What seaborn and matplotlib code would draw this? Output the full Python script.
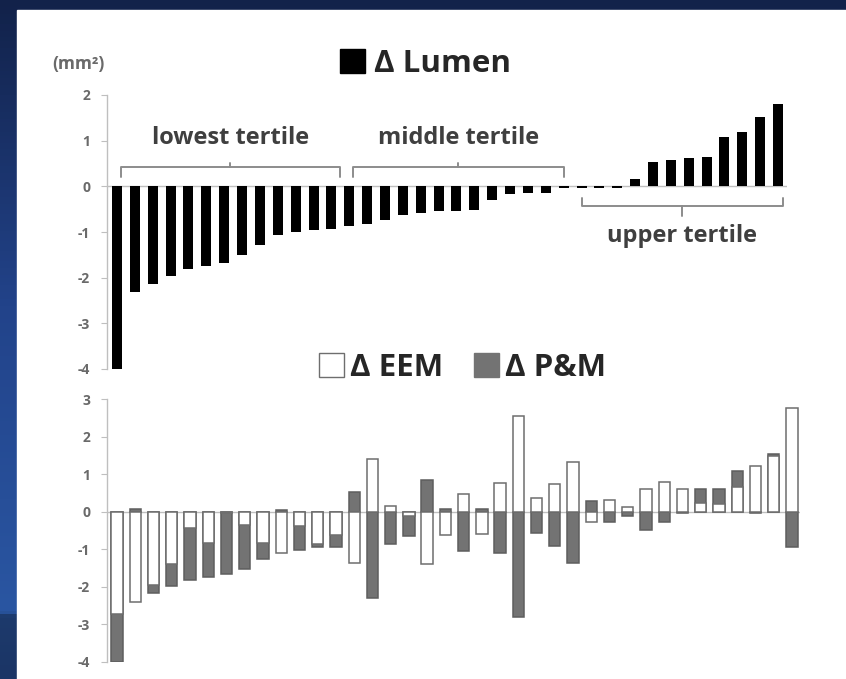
import numpy as np
import pandas as pd
import matplotlib
matplotlib.use("Agg")
import matplotlib.pyplot as plt
from matplotlib.colors import LinearSegmentedColormap
from matplotlib.patches import Rectangle, Patch
import seaborn as sns

# change in lumen area per lesion (mm2), sorted
lumen = [-4.00, -2.31, -2.13, -1.97, -1.82, -1.74, -1.68, -1.51, -1.28, -1.06, -1.01, -0.95, -0.93,
         -0.86, -0.82, -0.73, -0.62, -0.58, -0.54, -0.53, -0.51, -0.31, -0.17, -0.15, -0.15, -0.04,
         -0.04, -0.04, -0.04, 0.15, 0.54, 0.58, 0.61, 0.65, 1.08, 1.19, 1.52, 1.81]

# EEM and P&M segments (same lesion order)
eem = [-2.73, -2.42, -1.96, -1.40, -0.44, -0.83, -0.02, -0.36, -0.83, -1.10, -0.38, -0.86, -0.62,
       -1.36, 1.42, 0.15, -0.12, -1.40, -0.62, 0.47, -0.60, 0.77, 2.56, 0.38, 0.74, 1.32,
       -0.28, 0.31, 0.14, 0.60, 0.80, 0.62, 0.24, 0.20, 0.67, 1.22, 1.50, 2.78]
pm = [-1.27, 0.08, -0.20, -0.58, -1.38, -0.92, -1.65, -1.16, -0.44, 0.06, -0.64, -0.09, -0.31,
      0.53, -2.29, -0.87, -0.52, 0.84, 0.07, -1.04, 0.07, -1.11, -2.80, -0.58, -0.92, -1.36,
      0.29, -0.28, -0.12, -0.49, -0.28, -0.03, 0.36, 0.42, 0.42, -0.03, 0.03, -0.93]

tertile_names = ["lowest tertile", "middle tertile", "upper tertile"]
tertile_spans = [(0.2, 12.5), (13.2, 25.0), (26.0, 37.3)]

W, H = 846, 679
sns.set_style("white")
plt.rcParams["font.family"] = ["Open Sans", "DejaVu Sans"]

fig = plt.figure(figsize=(W / 100, H / 100), dpi=100)

# slide background: dark blue frame with a white panel
bg = fig.add_axes([0, 0, 1, 1], zorder=-10)
cmap = LinearSegmentedColormap.from_list(
    "slide", [(0, "#12224a"), (0.45, "#22438a"), (0.905, "#2a56a2"), (0.91, "#1d3a6c"), (1, "#1b3566")])
bg.imshow(np.linspace(0, 1, 200).reshape(-1, 1), cmap=cmap, aspect="auto", extent=[0, W, H, 0])
bg.add_patch(Rectangle((17, 10), W - 17, H - 10, color="white"))
bg.set_xlim(0, W)
bg.set_ylim(H, 0)
bg.axis("off")

df = pd.DataFrame({"idx": range(len(lumen)), "lumen": lumen, "eem": eem, "pm": pm})
# gray segment is stacked on the white one when both have the same sign
df["pm_outer"] = np.where(np.sign(df["eem"]) == np.sign(df["pm"]), df["eem"] + df["pm"], df["pm"])

ax1 = fig.add_axes([107 / W, 1 - 369 / H, (787 - 107) / W, 274 / H])
ax2 = fig.add_axes([107 / W, 1 - 661.7 / H, (800 - 107) / W, 262.4 / H])

sns.barplot(data=df, x="idx", y="lumen", color="black", width=0.56, saturation=1,
            errorbar=None, linewidth=0, ax=ax1)
sns.barplot(data=df, x="idx", y="pm_outer", color="#737373", width=0.62, saturation=1,
            errorbar=None, edgecolor="#5e5e5e", linewidth=1.1, ax=ax2)
sns.barplot(data=df, x="idx", y="eem", color="white", width=0.62, saturation=1,
            errorbar=None, edgecolor="#6e6e6e", linewidth=1.1, ax=ax2)

for ax, lim, ticks in [(ax1, (-0.56, 37.5), range(-4, 3)), (ax2, (-0.55, 37.44), range(-4, 4))]:
    ax.set_xlim(*lim)
    ax.set_ylim(ticks[0], ticks[-1])
    ax.set_facecolor("none")
    ax.axhline(0, color="#bfbfbf", lw=1.0, zorder=0.5)
    for s in ["top", "right", "bottom"]:
        ax.spines[s].set_visible(False)
    ax.spines["left"].set_color("#bfbfbf")
    ax.spines["left"].set_linewidth(1.0)
    ax.set_xticks([])
    ax.set_yticks(list(ticks))
    ax.set_yticklabels([str(t) for t in ticks], fontweight="bold")
    ax.tick_params(axis="y", left=True, length=4, color="#bfbfbf", labelsize=10,
                   labelcolor="#6a6a6a", pad=8)
    ax.set_xlabel("")
    ax.set_ylabel("")

fig.text(78 / W, 1 - 64 / H, "(mm²)", ha="center", va="center", fontsize=12.5,
         color="#6a6a6a", fontweight="bold")

# tertile brackets
for k, (name, (a, b)) in enumerate(zip(tertile_names, tertile_spans)):
    mid = (a + b) / 2
    if k < 2:
        y0, y1, nub, ty = 0.20, 0.43, 0.51, 1.05
    else:
        y0, y1, nub, ty = -0.25, -0.42, -0.64, -1.08
    ax1.plot([a, a, b, b], [y0, y1, y1, y0], color="#8c8c8c", lw=1.4, solid_joinstyle="round")
    ax1.plot([mid, mid], [y1, nub], color="#8c8c8c", lw=1.4)
    ax1.text(mid, ty, name, ha="center", va="center", fontsize=17, fontweight="bold", color="#3f3f3f")

leg1 = fig.legend(handles=[Patch(facecolor="black", edgecolor="black", label="Δ Lumen")],
                  loc="center", bbox_to_anchor=(425.5 / W, 1 - 64 / H), frameon=False,
                  prop={"size": 22.5, "weight": "bold"}, handlelength=0.8, handleheight=0.8,
                  handletextpad=0.3, borderpad=0)
leg2 = fig.legend(handles=[Patch(facecolor="white", edgecolor="#6e6e6e", label="Δ EEM"),
                           Patch(facecolor="#737373", edgecolor="#737373", label="Δ P&M")],
                  loc="center", bbox_to_anchor=(462.5 / W, 1 - 368 / H), frameon=False, ncol=2,
                  prop={"size": 22.5, "weight": "bold"}, handlelength=0.8, handleheight=0.8,
                  handletextpad=0.2, columnspacing=1.0, borderpad=0)

fig.savefig("out.png", dpi=100)
